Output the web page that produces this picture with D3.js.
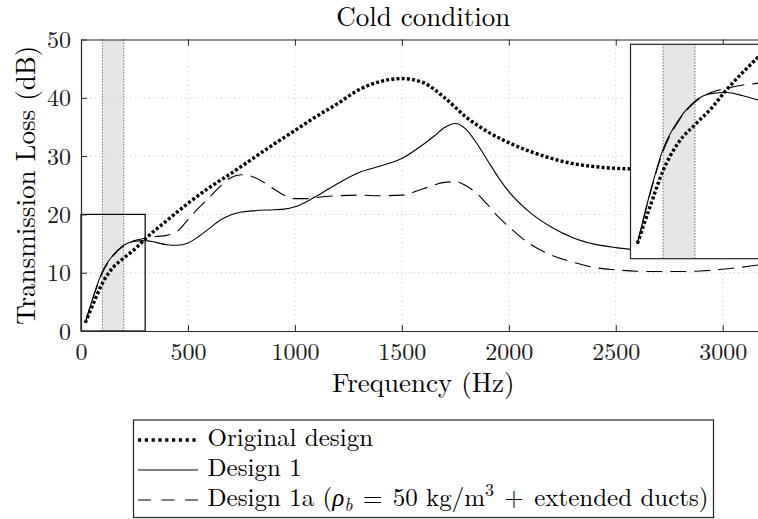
<!DOCTYPE html>
<html><head><meta charset="utf-8">
<script src="https://cdn.jsdelivr.net/npm/d3@7"></script>
<style>body{margin:0;background:#fff}svg{display:block}</style>
</head><body><svg id="c" width="758" height="519"></svg>
<script>
// ---------- data ----------
const origFreq = [20,60,100,150,200,250,300,400,500,600,700,800,900,1000,1100,1200,1300,1400,1500,1600,1700,1800,1900,2000,2100,2200,2300,2400,2500,2600,2800];
const origTL   = [1.4,4.9,8.2,10.9,12.5,14.0,15.8,18.9,21.9,24.6,27.0,29.5,32.0,34.4,36.8,39.0,41.4,42.8,43.3,42.6,40.0,36.7,34.2,32.3,30.8,29.6,28.7,28.2,27.9,27.8,27.8];

const d1Freq = [20,60,100,150,200,250,300,350,400,450,500,550,600,650,700,750,800,900,950,1000,1050,1100,1200,1300,1400,1500,1600,1650,1700,1750,1800,1850,1900,1950,2000,2100,2200,2300,2400,2500,2600,2700];
const d1TL   = [1.4,6.2,10.2,13.0,14.7,15.4,15.5,15.2,14.8,14.7,15.1,16.2,17.6,19.0,19.9,20.4,20.6,20.8,20.9,21.3,22.1,23.1,25.3,27.2,28.3,29.6,32.0,33.4,34.9,35.6,34.6,32.2,29.3,26.4,23.9,20.3,17.8,16.0,14.9,14.3,13.9,13.6];

const d1aFreq = [20,60,100,150,200,250,300,350,400,450,500,550,600,650,700,750,800,850,900,950,1000,1050,1100,1200,1300,1400,1500,1600,1700,1750,1800,1850,1900,1950,2000,2100,2200,2300,2400,2500,2600,2700,2800,2900,3000,3100,3200];
const d1aTL   = [1.4,6.1,10.0,12.9,14.6,15.5,15.9,16.2,16.4,17.1,19.1,21.1,22.9,24.8,26.3,26.8,26.5,25.6,24.4,23.3,22.7,22.7,22.9,23.2,23.3,23.2,23.3,24.4,25.5,25.6,24.9,23.6,21.7,19.6,17.9,14.9,13.0,11.8,10.9,10.5,10.25,10.2,10.2,10.3,10.6,11.0,11.5];

const xTicks = [0,500,1000,1500,2000,2500,3000];
const yTicks = [0,10,20,30,40,50];
const bandFreq = [100,200];
const zoomBoxFreq = 300, zoomBoxTL = 20;

const titleText = "Cold condition";
const xLabel = "Frequency (Hz)";
const yLabel = "Transmission Loss (dB)";

// ---------- layout ----------
const svg = d3.select("#c");
const FONT = '"Latin Modern Roman", "Liberation Serif", serif';
const AX = "#262626";
const L = 81, R = 765.5, T = 39.5, B = 331;
const x = d3.scaleLinear().domain([0,3200]).range([L,R]);
const y = d3.scaleLinear().domain([0,50]).range([B,T]);

svg.append("rect").attr("width",758).attr("height",519).attr("fill","#fff");
const defs = svg.append("defs");
defs.append("clipPath").attr("id","mainclip").append("rect").attr("x",L).attr("y",T).attr("width",R-L).attr("height",B-T);

// band
svg.append("rect").attr("x",x(bandFreq[0])).attr("y",T).attr("width",x(bandFreq[1])-x(bandFreq[0])).attr("height",B-T).attr("fill","#e6e6e6");

// grid
const grid = svg.append("g").attr("stroke","#d6d6d6").attr("stroke-width",1).attr("stroke-dasharray","1.5,3");
grid.selectAll(".gx").data(xTicks.filter(d=>d>0)).join("line").attr("x1",d=>x(d)).attr("x2",d=>x(d)).attr("y1",T).attr("y2",B);
grid.selectAll(".gy").data(yTicks.filter(d=>d>0&&d<50)).join("line").attr("y1",d=>y(d)).attr("y2",d=>y(d)).attr("x1",L).attr("x2",R);

// band edges
svg.selectAll(".bl").data(bandFreq).join("line").attr("x1",d=>x(d)).attr("x2",d=>x(d)).attr("y1",T).attr("y2",B)
  .attr("stroke","#333").attr("stroke-width",1).attr("stroke-dasharray","1,2");

const series = [
  {f:origFreq, v:origTL, w:3.4, dash:"3,2.2", ldash:"3.2,3.6"},
  {f:d1Freq, v:d1TL, w:1.1, dash:null, ldash:null},
  {f:d1aFreq, v:d1aTL, w:1.1, dash:"16,8", ldash:"13,10.5"}
];

function drawSeries(g, xs, ys){
  const line = d3.line().x(d=>xs(d[0])).y(d=>ys(d[1])).curve(d3.curveMonotoneX);
  series.slice().reverse().forEach(s=>{
    g.append("path").datum(s.f.map((f,i)=>[f,s.v[i]])).attr("d",line)
      .attr("fill","none").attr("stroke","#000").attr("stroke-width",s.w)
      .attr("stroke-dasharray",s.dash).attr("stroke-linecap","butt").attr("stroke-linejoin","round");
  });
}
drawSeries(svg.append("g").attr("clip-path","url(#mainclip)"), x, y);

// zoom box
svg.append("rect").attr("x",x(0)).attr("y",y(zoomBoxTL)).attr("width",x(zoomBoxFreq)-x(0)).attr("height",y(0)-y(zoomBoxTL))
  .attr("fill","none").attr("stroke","#000").attr("stroke-width",1.2);

// axes
const ax = svg.append("g");
const xb = ax.append("g").attr("transform",`translate(0,${B})`).call(d3.axisBottom(x).tickValues(xTicks).tickSizeInner(-6).tickSizeOuter(0).tickPadding(14).tickFormat(d3.format("d")));
const xt = ax.append("g").attr("transform",`translate(0,${T})`).call(d3.axisTop(x).tickValues(xTicks).tickSizeInner(-6).tickSizeOuter(0).tickFormat(""));
const yl = ax.append("g").attr("transform",`translate(${L},0)`).call(d3.axisLeft(y).tickValues(yTicks).tickSizeInner(-6).tickSizeOuter(0).tickPadding(10).tickFormat(d3.format("d")));
[xb,xt,yl].forEach(g=>{
  g.select(".domain").attr("stroke",AX).attr("stroke-width",1.2);
  g.selectAll(".tick line").attr("stroke",AX).attr("stroke-width",1);
  g.selectAll(".tick text").attr("fill","#1a1a1a").style("font-family",FONT).style("font-size","24px");
});
xb.selectAll(".tick text").attr("dy","0.64em");
yl.selectAll(".tick text").attr("dy","0.34em");

// inset
const IL = 630.5, IT = 44.3, IB = 258.7;
const xi = d3.scaleLinear().domain([0,400]).range([631,759]);
const yi = d3.scaleLinear().domain([0,20]).range([IB,IT]);
defs.append("clipPath").attr("id","insclip").append("rect").attr("x",IL).attr("y",IT).attr("width",200).attr("height",IB-IT);
const ins = svg.append("g");
ins.append("rect").attr("x",IL).attr("y",IT).attr("width",200).attr("height",IB-IT).attr("fill","#fff");
ins.append("rect").attr("x",xi(bandFreq[0])).attr("y",IT).attr("width",xi(bandFreq[1])-xi(bandFreq[0])).attr("height",IB-IT).attr("fill","#e6e6e6");
ins.selectAll(".ibl").data(bandFreq).join("line").attr("x1",d=>xi(d)).attr("x2",d=>xi(d)).attr("y1",IT).attr("y2",IB)
  .attr("stroke","#333").attr("stroke-width",1).attr("stroke-dasharray","1,2");
drawSeries(ins.append("g").attr("clip-path","url(#insclip)"), xi, yi);
ins.append("rect").attr("x",IL).attr("y",IT).attr("width",200).attr("height",IB-IT).attr("fill","none").attr("stroke",AX).attr("stroke-width",1.2);

// title and labels
function txt(sel, size){ return sel.style("font-family",FONT).style("font-size",size+"px").attr("fill","#000"); }
txt(svg.append("text").attr("x",(L+R)/2).attr("y",25.5).attr("text-anchor","middle"),27).text(titleText);
txt(svg.append("text").attr("x",(L+R)/2).attr("y",392).attr("text-anchor","middle"),27).text(xLabel);
txt(svg.append("text").attr("transform",`translate(35,${(T+B)/2}) rotate(-90)`).attr("text-anchor","middle"),27).text(yLabel);

// legend
const lg = svg.append("g");
lg.append("rect").attr("x",133.5).attr("y",420).attr("width",580).attr("height",97.5).attr("fill","#fff").attr("stroke",AX).attr("stroke-width",1.2);
const rowsY = [440,470,500];
series.forEach((s,i)=>{
  lg.append("line").attr("x1",138).attr("x2",198).attr("y1",rowsY[i]).attr("y2",rowsY[i])
    .attr("stroke","#000").attr("stroke-width",s.w).attr("stroke-dasharray",s.ldash);
});
txt(lg.append("text").attr("x",207.5).attr("y",446),25).text("Original design");
txt(lg.append("text").attr("x",207.5).attr("y",475.5),25).text("Design 1");
const t3 = txt(lg.append("text").attr("x",207.5).attr("y",505.5),25);
t3.append("tspan").text("Design 1a (");
t3.append("tspan").style("font-style","italic").style("font-family",'"Liberation Serif", serif').text("ρ");
t3.append("tspan").style("font-style","italic").style("font-size","18px").attr("dy",5).text("b");
t3.append("tspan").attr("dy",-5).attr("dx",2).text(" =");
t3.append("tspan").attr("dx",2).text(" 50 kg/m");
t3.append("tspan").style("font-size","18px").attr("dy",-10).text("3");
t3.append("tspan").attr("dy",10).attr("dx",2).text(" +");
t3.append("tspan").attr("dx",2).text(" extended ducts)");
svg.selectAll("text").each(function(){ this.getComputedTextLength(); });
</script></body></html>
